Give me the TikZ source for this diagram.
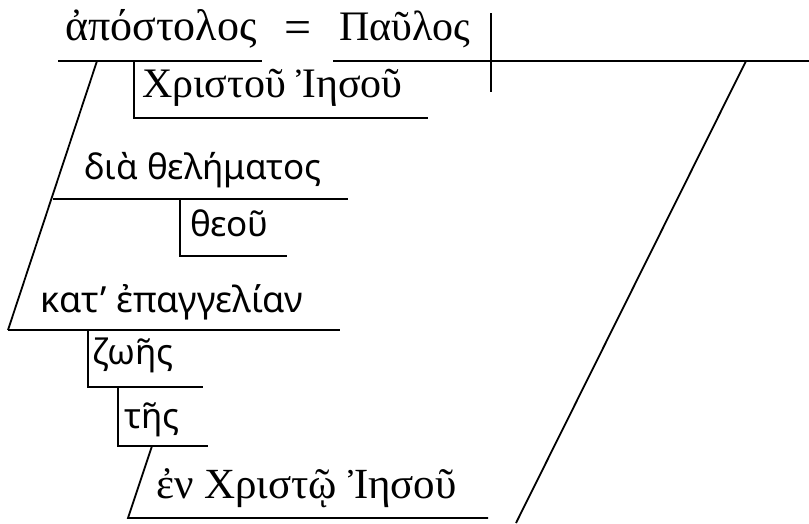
\documentclass[tikz,border=0pt]{standalone}
\usepackage{fontspec}
\newfontfamily\grserif{Liberation Serif}
\newfontfamily\grsans{Noto Sans}
\begin{document}
\begin{tikzpicture}[x=1pt,y=-1pt,
  ln/.style={line width=1.8pt, line cap=butt},
  sw/.style={anchor=base west, inner sep=0pt, font=\fontsize{42}{48}\selectfont\grserif},
  ss/.style={anchor=base west, inner sep=0pt, font=\fontsize{35}{40}\selectfont\grsans}]
\useasboundingbox (0,0) rectangle (809,523);
% coordinates
\coordinate (subjL) at (58,61);
\coordinate (subjR) at (262,61);
\coordinate (appL) at (333,61);
\coordinate (mainR) at (809,61);
\coordinate (divT) at (491,13);
\coordinate (divB) at (491,92);
\coordinate (slT) at (97,61);
\coordinate (slB) at (8,330);
\coordinate (gen1T) at (134,61);
\coordinate (gen1C) at (134,118);
\coordinate (gen1R) at (428,118);
\coordinate (diaL) at (53,199);
\coordinate (diaR) at (348,199);
\coordinate (theT) at (180,199);
\coordinate (theC) at (180,256);
\coordinate (theR) at (287,256);
\coordinate (katR) at (340,330);
\coordinate (zoT) at (88,330);
\coordinate (zoC) at (88,387);
\coordinate (zoR) at (203,387);
\coordinate (tesT) at (118,387);
\coordinate (tesC) at (118,446);
\coordinate (tesR) at (208,446);
\coordinate (enT) at (152,446);
\coordinate (enB) at (128,518);
\coordinate (enR) at (488,518);
\coordinate (rsT) at (746,61);
\coordinate (rsB) at (516,523);
% lines
\draw[ln] (subjL) -- (subjR);
\draw[ln] (appL) -- (mainR);
\draw[ln] (divT) -- (divB);
\draw[ln] (slT) -- (slB);
\draw[ln] (gen1T) -- (gen1C) -- (gen1R);
\draw[ln] (diaL) -- (diaR);
\draw[ln] (theT) -- (theC) -- (theR);
\draw[ln] (slB) -- (katR);
\draw[ln] (zoT) -- (zoC) -- (zoR);
\draw[ln] (tesT) -- (tesC) -- (tesR);
\draw[ln] (enT) -- (enB) -- (enR);
\draw[ln] (rsT) -- (rsB);
% texts
\node[sw, font=\fontsize{44}{50}\selectfont\grserif] (apostolos) at (65,40) {ἀπόστολος};
\node[inner sep=0pt, font=\fontsize{48}{54}\selectfont\grserif] (eq) at (298,33) {=};
\node[sw] (paulos) at (339,40) {Παῦλος};
\node[sw] (christou) at (142,97) {Χριστοῦ Ἰησοῦ};
\node[ss] (dia) at (84,179) {διὰ θελήματος};
\node[ss] (theou) at (190,236) {θεοῦ};
\node[ss, font=\fontsize{36}{41}\selectfont\grsans] (kat) at (40,312) {κατ’ ἐπαγγελίαν};
\node[ss] (zoes) at (92,364) {ζωῆς};
\node[ss] (tes) at (124,428) {τῆς};
\node[sw, font=\fontsize{43}{49}\selectfont\grserif] (en) at (156,498) {ἐν Χριστῷ Ἰησοῦ};
\end{tikzpicture}
\end{document}
